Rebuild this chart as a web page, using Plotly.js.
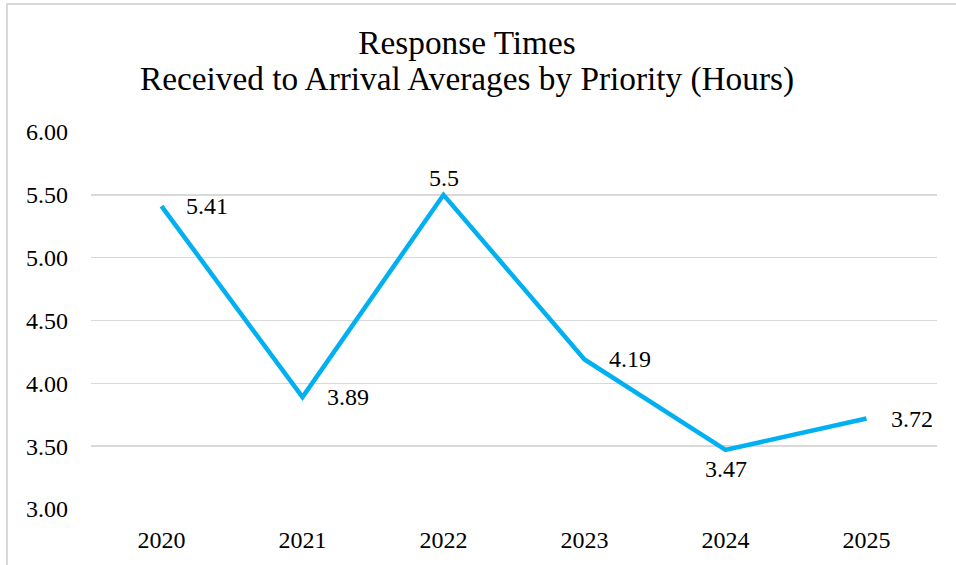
<!DOCTYPE html>
<html>
<head>
<meta charset="utf-8">
<script src="https://cdn.plot.ly/plotly-3.0.1.min.js"></script>
<style>
html,body{margin:0;padding:0;background:#fff;}
#wrap{position:absolute;left:0;top:0;width:956px;height:565px;}
#frame{position:absolute;left:6px;top:3px;width:960px;height:580px;border-top:2px solid #d9d9d9;border-left:2px solid #d9d9d9;pointer-events:none;}
#chart{position:absolute;left:0;top:0;width:956px;height:565px;}
</style>
</head>
<body>
<div id="wrap">
<div id="chart"></div>
<div id="frame"></div>
</div>
<script>
const years = ["2020","2021","2022","2023","2024","2025"];
const hours = [5.41, 3.89, 5.5, 4.19, 3.47, 3.72];
const labels = ["5.41","3.89","5.5","4.19","3.47","3.72"];
const labelSides = ["right","right","above","right","below","right"];
const yTicks = [3.0, 3.5, 4.0, 4.5, 5.0, 5.5, 6.0];
const titleLine1 = "Response Times";
const titleLine2 = "Received to Arrival Averages by Priority (Hours)";

const FONT = "Liberation Serif, Times New Roman, serif";
const labelFont = {family: FONT, size: 24, color: "#000"};

const placement = {
  right: {xanchor: "left", yanchor: "middle", xshift: 22, yshift: 0},
  above: {xanchor: "center", yanchor: "middle", xshift: 0, yshift: 17},
  below: {xanchor: "center", yanchor: "middle", xshift: 0, yshift: -19}
};

// category axis: annotation x given as category index
const annotations = years.map((yr, i) => Object.assign({
  x: i, y: hours[i], xref: "x", yref: "y",
  text: labels[i], showarrow: false, font: labelFont
}, placement[labelSides[i]]));

annotations.push({
  text: titleLine2, xref: "paper", yref: "paper",
  x: (467 - 91) / 846, y: (509 - 79) / 377, xanchor: "center", yanchor: "middle",
  showarrow: false, font: {family: FONT, size: 33.3, color: "#000"}
});

Plotly.newPlot("chart", [{
  x: years,
  y: hours,
  type: "scatter",
  mode: "lines",
  line: {color: "#00B0F0", width: 4.5},
  cliponaxis: false,
  hoverinfo: "skip"
}], {
  width: 956,
  height: 565,
  margin: {l: 91, r: 19, t: 132, b: 56},
  paper_bgcolor: "#fff",
  plot_bgcolor: "#fff",
  showlegend: false,
  title: {
    text: titleLine1,
    font: {family: FONT, size: 33.3, color: "#000"},
    x: 467 / 956, xanchor: "center",
    yref: "container", y: 1 - 42 / 565, yanchor: "middle"
  },
  annotations: annotations,
  xaxis: {
    type: "category",
    showgrid: false,
    zeroline: false,
    showline: false,
    ticks: "",
    ticklabelstandoff: 14,
    tickfont: {family: FONT, size: 24, color: "#000"},
    range: [-0.5, 5.5]
  },
  yaxis: {
    range: [3, 6],
    tickvals: yTicks,
    ticktext: yTicks.map(v => v.toFixed(2)),
    showgrid: true,
    gridcolor: "#d9d9d9",
    gridwidth: 1.5,
    zeroline: false,
    showline: false,
    ticks: "",
    ticklabelstandoff: 22,
    tickfont: {family: FONT, size: 24, color: "#000"}
  }
}, {displayModeBar: false, staticPlot: true});
</script>
</body>
</html>
